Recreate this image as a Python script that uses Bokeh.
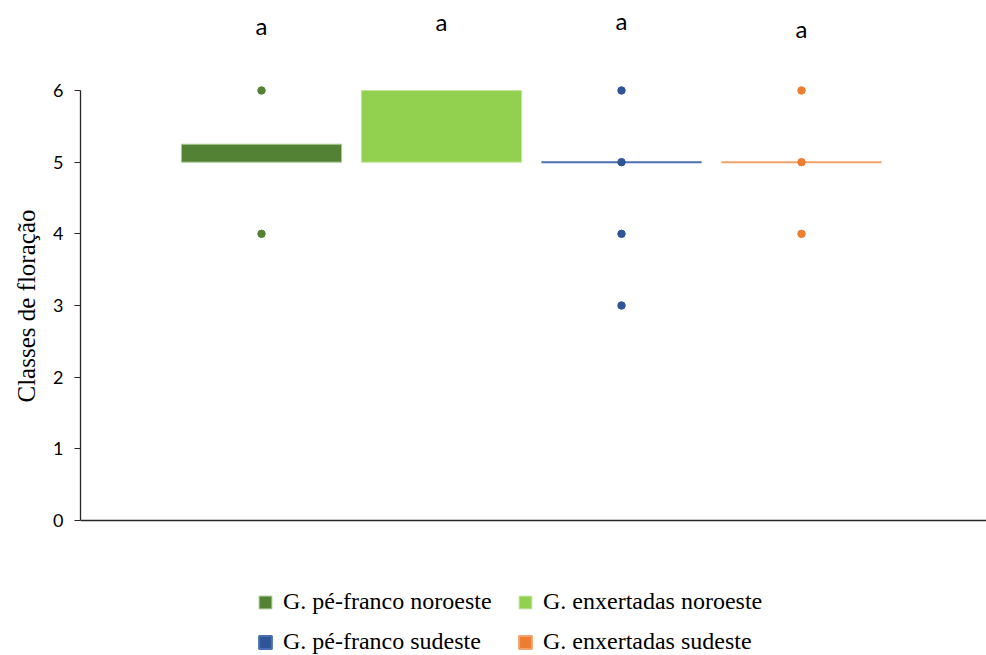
from bokeh.plotting import figure
from bokeh.models import (ColumnDataSource, Range1d, FixedTicker, Span, Legend, LegendItem, Title)
from bokeh.core.properties import value
from bokeh.embed import file_html
from bokeh.resources import INLINE

# ---- data ----
groups = ["G. pé-franco noroeste", "G. enxertadas noroeste",
          "G. pé-franco sudeste", "G. enxertadas sudeste"]
positions = [1, 2, 3, 4]
q1 = [5.0, 5.0, 5.0, 5.0]
q3 = [5.25, 6.0, 5.0, 5.0]
points = {
    "G. pé-franco noroeste": [4, 6],
    "G. enxertadas noroeste": [],
    "G. pé-franco sudeste": [3, 4, 5, 6],
    "G. enxertadas sudeste": [4, 5, 6],
}
letters = ["a", "a", "a", "a"]
letter_y = [6.91, 6.96, 6.98, 6.87]
y_ticks = [0, 1, 2, 3, 4, 5, 6]
y_title = "Classes de floração"

# ---- styles ----
fill_colors = ["#548235", "#92D050", "#2F5597", "#ED7D31"]
edge_colors = ["#A9C98F", "#C5E59E", "#4A6FB5", "#F2A26A"]
edge_widths = [1, 1, 2, 2]
dot_colors = ["#548235", "#92D050", "#2F5597", "#ED7D31"]

p = figure(width=986, height=655, output_backend="svg", toolbar_location=None,
           x_range=Range1d(-0.0056, 5.0278), y_range=Range1d(-1.8837, 7.2558),
           x_axis_location=None, min_border_left=80, min_border_right=0,
           min_border_top=0, min_border_bottom=0)
p.outline_line_color = None
p.xgrid.visible = False
p.ygrid.visible = False

ax = p.yaxis[0]
ax.bounds = (0, 6)
ax.ticker = FixedTicker(ticks=y_ticks)
ax.minor_tick_line_color = None
ax.major_tick_in = 0
ax.major_tick_out = 6
ax.axis_line_color = "#262626"
ax.major_tick_line_color = "#262626"
ax.axis_line_width = 1.3
ax.major_label_text_font = "Lato"
ax.major_label_text_font_size = "18px"
ax.major_label_text_color = "#000000"
ax.major_label_standoff = 11

# y-axis title placed as a side title so it can be centred on the 0-6 extent
p.add_layout(Title(text=y_title, align="left", offset=253, vertical_align="middle",
                   standoff=20, text_font="Liberation Serif", text_font_size="25px",
                   text_font_style="normal", text_color="#000000"), "left")

# x axis line
p.add_layout(Span(location=0, dimension="width", line_color="#262626", line_width=1.3))

box_src = ColumnDataSource(dict(x=positions, q1=q1, q3=q3, group=groups,
                                fill=fill_colors, edge=edge_colors, lw=edge_widths))
boxes = p.vbar(x="x", width=0.89, bottom="q1", top="q3", source=box_src,
               fill_color="fill", line_color="edge", line_width="lw")

px, py, pc = [], [], []
for g, xp, c in zip(groups, positions, dot_colors):
    for v in points[g]:
        px.append(xp)
        py.append(v)
        pc.append(c)
p.scatter(px, py, size=7.5, color=pc)

p.text(x=positions, y=letter_y, text=letters, text_font=value("Lato"),
       text_font_size="24px", text_align="center", text_baseline="middle",
       text_color="#000000")

legend_style = dict(orientation="vertical", glyph_width=16, glyph_height=16,
                    label_standoff=10, spacing=13, padding=0, margin=0,
                    border_line_color=None, background_fill_alpha=0,
                    label_text_font="Liberation Serif", label_text_font_size="24px",
                    label_text_color="#000000")
# column 1: pé-franco (noroeste, sudeste); column 2: enxertadas (noroeste, sudeste)
col1 = [LegendItem(label=groups[i], renderers=[boxes], index=i) for i in (0, 2)]
col2 = [LegendItem(label=groups[i], renderers=[boxes], index=i) for i in (1, 3)]
p.add_layout(Legend(items=col1, location=(177, 0), **legend_style), "center")
p.add_layout(Legend(items=col2, location=(437, 0), **legend_style), "center")

open("out.html", "w").write(file_html(p, INLINE))
